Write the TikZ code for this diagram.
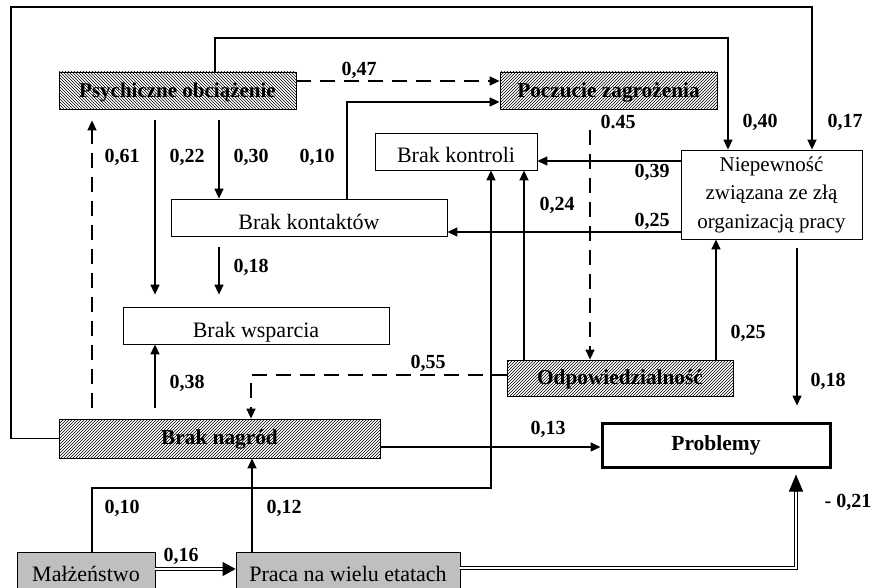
\documentclass[tikz,border=0pt]{standalone}
\usepackage{fontspec}
\setmainfont{Liberation Serif}
\usetikzlibrary{arrows.meta,patterns,calc}
\newcommand{\lowertext}[2]{\raisebox{-#1}[\height][\depth]{#2}}
\begin{document}
\begin{tikzpicture}[x=1pt,y=-1pt,
  box/.style={draw, line width=0.8pt, inner sep=0pt, align=center, font=\fontsize{22}{28.5}\selectfont},
  hatchne/.style={box, pattern=north east lines, font=\fontsize{21.3}{24}\selectfont\bfseries},
  hatchnw/.style={box, pattern=north west lines, font=\fontsize{21}{24}\selectfont\bfseries},
  greybox/.style={box, fill=black!25},
  probbox/.style={box, line width=3pt, font=\fontsize{21.5}{24}\selectfont\bfseries},
  conn/.style={line width=1.5pt, -{Triangle[length=10pt,width=9pt]}},
  dconn/.style={conn, dash pattern=on 15pt off 9pt},
  lbl/.style={font=\fontsize{20}{24}\selectfont\bfseries, inner sep=0pt},
  dbl/.style={double, double distance=2pt, line width=1.1pt},
  bigtip/.style={line width=1pt, -{Triangle[length=#1pt,width=14pt]}},
]
\useasboundingbox (0,0) rectangle (873,588);
\clip (0,0) rectangle (873,588);

% nodes
\node[hatchnw, minimum width=237pt, minimum height=37pt] (psy) at (177.5,90.5) {\lowertext{2pt}{Psychiczne obciążenie}};
\node[hatchne, minimum width=217pt, minimum height=37pt] (pocz) at (608.5,90.5) {\lowertext{2pt}{Poczucie zagrożenia}};
\node[box, minimum width=162pt, minimum height=37pt] (kontr) at (456,151.5) {\lowertext{3pt}{Brak kontroli}};
\node[box, minimum width=276pt, minimum height=37pt] (kontakt) at (309,217.5) {\lowertext{4pt}{Brak kontaktów}};
\node[box, minimum width=266pt, minimum height=37pt] (wsp) at (256,325.5) {\lowertext{7pt}{Brak wsparcia}};
\node[hatchne, minimum width=321pt, minimum height=39pt] (nagr) at (219.5,438.5) {\lowertext{1pt}{Brak nagród}};
\node[hatchne, minimum width=226pt, minimum height=36pt] (odp) at (620,378) {\lowertext{1pt}{Odpowiedzialność}};
\node[box, minimum width=181pt, minimum height=89pt, font=\fontsize{21}{28.5}\selectfont] (niep) at (771.5,194.5) {Niepewność\\związana ze złą\\organizacją pracy};
\node[probbox, minimum width=228pt, minimum height=44pt] (prob) at (716,445) {Problemy};
\node[greybox, minimum width=138pt, minimum height=44pt] (mal) at (86,574) {Małżeństwo};
\node[greybox, minimum width=224pt, minimum height=44pt] (praca) at (348,574) {Praca na wielu etatach};

% helper coordinates
\foreach \v in {11,92,155,215,219,251,252,347,491,524,590,716,728,796,797,812}
  {\coordinate (v\v) at (\v,0);}
\foreach \h in {7,38,81,102,161,232,375,447,488,568,569}
  {\coordinate (h\h) at (0,\h);}

% connectors
\draw[conn] (nagr.west) -- (v11 |- nagr.west) -- (v11 |- h7) -- (v812 |- h7) -- (v812 |- niep.north);
\draw[conn] (v215 |- psy.north) -- (v215 |- h38) -- (v728 |- h38) -- (v728 |- niep.north);
\draw[dconn] (psy.east |- h81) -- (pocz.west |- h81);
\draw[conn] (v347 |- kontakt.north) -- (v347 |- h102) -- (pocz.west |- h102);
\draw[conn] (niep.west |- h161) -- (kontr.east |- h161);
\draw[conn] (niep.west |- h232) -- (kontakt.east |- h232);
\draw[conn, shorten <=11pt, shorten >=12pt] (v155 |- psy.south) -- (v155 |- wsp.north);
\draw[conn, shorten <=11pt] (v219 |- psy.south) -- (v219 |- kontakt.north);
\draw[conn, shorten <=11pt, shorten >=12pt] (v219 |- kontakt.south) -- (v219 |- wsp.north);
\draw[conn, shorten <=11pt] (v155 |- nagr.north) -- (v155 |- wsp.south);
\draw[dconn, shorten <=11pt, shorten >=11pt] (v92 |- nagr.north) -- (v92 |- psy.south);
\draw[conn] (v524 |- odp.north) -- (v524 |- kontr.south);
\draw[conn] (v92 |- mal.north) -- (v92 |- h488) -- (v491 |- h488) -- (v491 |- kontr.south);
\draw[conn] (v716 |- odp.north) -- (v716 |- niep.south);
\draw[conn, shorten <=9pt, shorten >=16pt] (v797 |- niep.south) -- (v797 |- prob.north);
\draw[dconn, shorten <=21pt] (v590 |- pocz.south) -- (v590 |- odp.north);
\draw[dconn] (odp.west |- h375) -- (v251 |- h375) -- (v251 |- nagr.north);
\draw[conn] (nagr.east |- h447) -- (prob.west |- h447);
\draw[conn] (v252 |- praca.north) -- (v252 |- nagr.south);

% double connectors
\draw[dbl] (mal.east |- h569) -- ($(praca.west |- h569)+(-12,0)$);
\draw[bigtip=13] ($(praca.west |- h569)+(-13,0)$) -- (praca.west |- h569);
\draw[dbl] (praca.east |- h568) -- (v796 |- h568) -- ($(v796 |- prob.south)+(0,22)$);
\draw[bigtip=17] ($(v796 |- prob.south)+(0,23)$) -- ($(v796 |- prob.south)+(0,6)$);

% labels
\node[lbl] (l047) at (359,70) {0,47};
\node[lbl] (l061) at (122,157) {0,61};
\node[lbl] (l022) at (187,157) {0,22};
\node[lbl] (l030) at (251,157) {0,30};
\node[lbl] (l010a) at (317,157) {0,10};
\node[lbl] (l040) at (760,122) {0,40};
\node[lbl] (l017) at (845,122) {0,17};
\node[lbl] (l045) at (618,122) {0.45};
\node[lbl] (l039) at (652,172) {0,39};
\node[lbl] (l024) at (557,205) {0,24};
\node[lbl] (l025a) at (652,221) {0,25};
\node[lbl] (l018a) at (251,267) {0,18};
\node[lbl] (l025b) at (748,333) {0,25};
\node[lbl] (l018b) at (828,381) {0,18};
\node[lbl] (l038) at (187,383) {0,38};
\node[lbl] (l055) at (428,363) {0,55};
\node[lbl] (l013) at (548,429) {0,13};
\node[lbl] (l010b) at (122,508) {0,10};
\node[lbl] (l012) at (284,508) {0,12};
\node[lbl] (l016) at (181,556) {0,16};
\node[lbl] (l021) at (848,502) {- 0,21};
\end{tikzpicture}
\end{document}
